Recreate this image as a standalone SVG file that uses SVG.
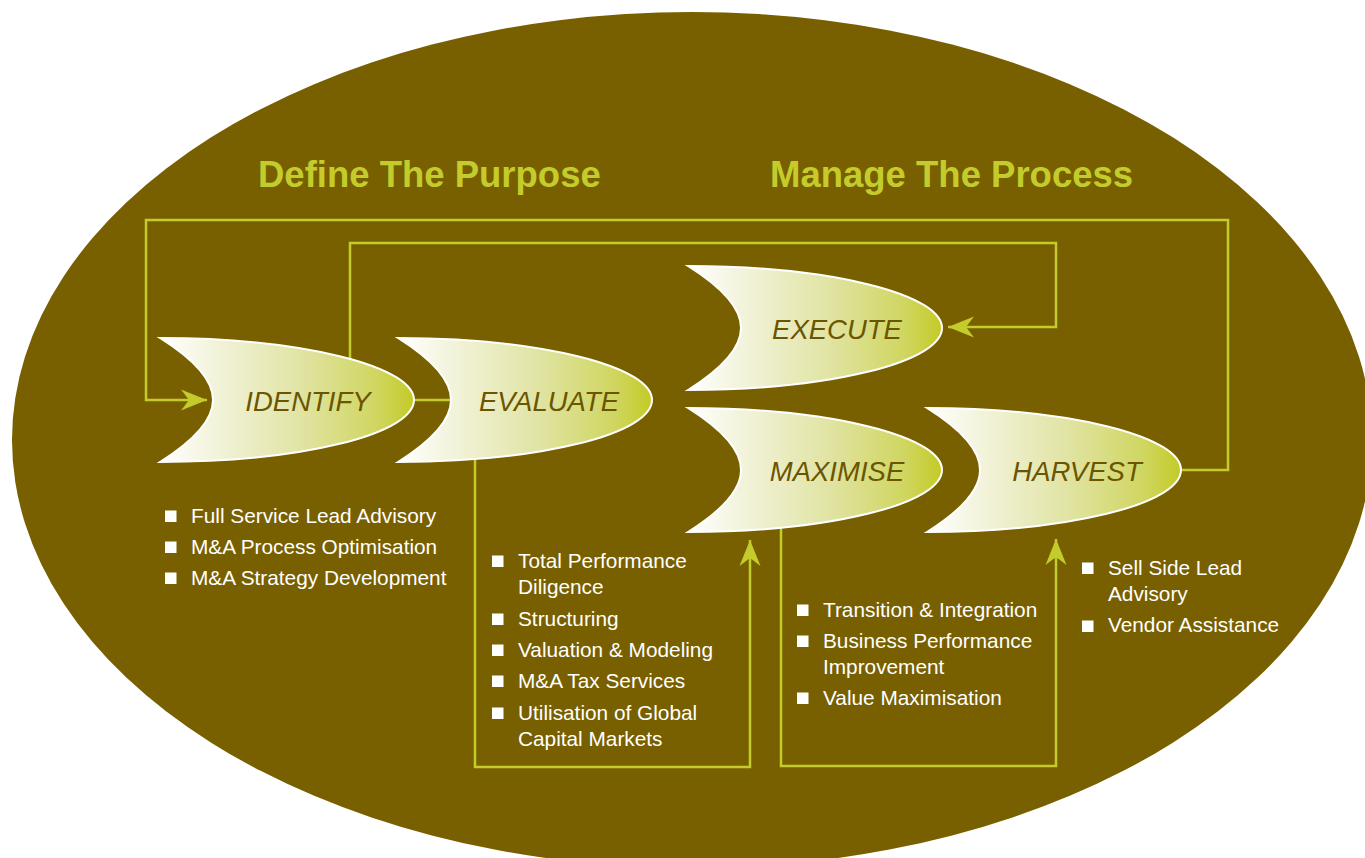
<svg xmlns="http://www.w3.org/2000/svg" width="1365" height="858" viewBox="0 0 1365 858">
<style>
.title{font-family:"Liberation Sans",Arial,sans-serif;font-weight:bold;font-size:36.5px;fill:#c4cc2c}
.lbl{font-family:"Liberation Sans",Arial,sans-serif;font-style:italic;font-size:27.5px;fill:#6b5500;text-anchor:middle}
.item{font-family:"Liberation Sans",Arial,sans-serif;font-size:20.8px;fill:#ffffff}
.bul{fill:#ffffff}
.conn{fill:none;stroke:#c4cc2c;stroke-width:2.5}
.shape{fill:url(#grad);stroke:#ffffff;stroke-width:2}
</style>
<defs>
<linearGradient id="grad" x1="0" y1="0" x2="1" y2="0">
<stop offset="0" stop-color="#ffffff"/>
<stop offset="0.22" stop-color="#f2f3da"/>
<stop offset="0.55" stop-color="#e1e4a4"/>
<stop offset="0.85" stop-color="#d0d661"/>
<stop offset="1" stop-color="#c3cb26"/>
</linearGradient>
<path id="chev" d="M0,-62 C35,-40 53,-20 53,0 C53,20 35,40 0,62 A254,62 0 0 0 254,0 A254,62 0 0 0 0,-62 Z"/>
<marker id="arr" markerUnits="userSpaceOnUse" viewBox="-27 -12 28 24" markerWidth="28" markerHeight="24" refX="0" refY="0" orient="auto">
<path d="M0,0 L-26,-10.5 L-18,0 L-26,10.5 Z" fill="#c4cc2c"/>
</marker>
</defs>
<ellipse cx="692" cy="440" rx="680" ry="428" fill="#786000"/>
<text class="title" x="258" y="187">Define The Purpose</text>
<text class="title" x="770" y="187">Manage The Process</text>
<g id="connectors">
<path class="conn" d="M1182,470 H1228 V220 H146 V400 H207" marker-end="url(#arr)"/>
<path class="conn" d="M350,400 V243 H1056 V327 H948" marker-end="url(#arr)"/>
<path class="conn" d="M413,400 H451"/>
<path class="conn" d="M475,455 V767 H750 V540" marker-end="url(#arr)"/>
<path class="conn" d="M781,525 V766 H1056 V539" marker-end="url(#arr)"/>
</g>
<g id="identify">
<use href="#chev" class="shape" x="160" y="400"/>
<text class="lbl" x="308" y="410.5">IDENTIFY</text>
</g>
<g id="evaluate">
<use href="#chev" class="shape" x="398" y="400"/>
<text class="lbl" x="549" y="410.5">EVALUATE</text>
</g>
<g id="execute">
<use href="#chev" class="shape" x="688" y="328"/>
<text class="lbl" x="837" y="338.5">EXECUTE</text>
</g>
<g id="maximise">
<use href="#chev" class="shape" x="688" y="470"/>
<text class="lbl" x="837" y="480.5">MAXIMISE</text>
</g>
<g id="harvest">
<use href="#chev" class="shape" x="927" y="470"/>
<text class="lbl" x="1077" y="480.5">HARVEST</text>
</g>
<g id="identify-list">
<rect class="bul" x="165" y="510.5" width="11.5" height="11.5"/>
<rect class="bul" x="165" y="541.5" width="11.5" height="11.5"/>
<rect class="bul" x="165" y="572.5" width="11.5" height="11.5"/>
<text class="item" x="191" y="523">Full Service Lead Advisory</text>
<text class="item" x="191" y="554">M&amp;A Process Optimisation</text>
<text class="item" x="191" y="585">M&amp;A Strategy Development</text>
</g>
<g id="evaluate-list">
<rect class="bul" x="492" y="555.5" width="11.5" height="11.5"/>
<rect class="bul" x="492" y="613.5" width="11.5" height="11.5"/>
<rect class="bul" x="492" y="644.5" width="11.5" height="11.5"/>
<rect class="bul" x="492" y="675.5" width="11.5" height="11.5"/>
<rect class="bul" x="492" y="707.5" width="11.5" height="11.5"/>
<text class="item" x="518" y="568">Total Performance</text>
<text class="item" x="518" y="594">Diligence</text>
<text class="item" x="518" y="626">Structuring</text>
<text class="item" x="518" y="657">Valuation &amp; Modeling</text>
<text class="item" x="518" y="688">M&amp;A Tax Services</text>
<text class="item" x="518" y="720">Utilisation of Global</text>
<text class="item" x="518" y="746">Capital Markets</text>
</g>
<g id="maximise-list">
<rect class="bul" x="797" y="604.5" width="11.5" height="11.5"/>
<rect class="bul" x="797" y="635.5" width="11.5" height="11.5"/>
<rect class="bul" x="797" y="692.5" width="11.5" height="11.5"/>
<text class="item" x="823" y="617">Transition &amp; Integration</text>
<text class="item" x="823" y="648">Business Performance</text>
<text class="item" x="823" y="674">Improvement</text>
<text class="item" x="823" y="705">Value Maximisation</text>
</g>
<g id="harvest-list">
<rect class="bul" x="1082" y="562.5" width="11.5" height="11.5"/>
<rect class="bul" x="1082" y="620.5" width="11.5" height="11.5"/>
<text class="item" x="1108" y="575">Sell Side Lead</text>
<text class="item" x="1108" y="601">Advisory</text>
<text class="item" x="1108" y="632">Vendor Assistance</text>
</g>
</svg>
